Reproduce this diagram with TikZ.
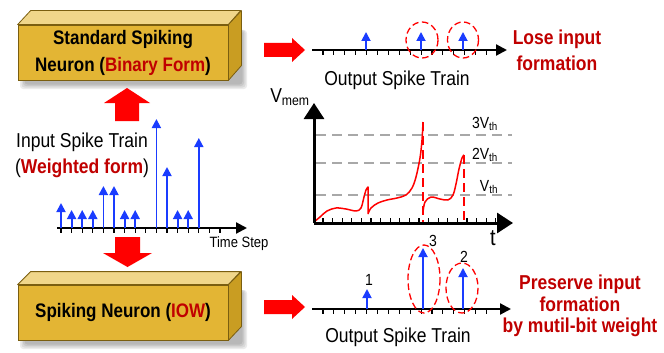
\documentclass[tikz,border=0pt]{standalone}
\usepackage{fontspec}
\usepackage{graphicx}
\setmainfont{Liberation Sans}
\usetikzlibrary{arrows.meta}
\definecolor{boxfront}{HTML}{E3B534}
\definecolor{boxtop}{HTML}{F0D68A}
\definecolor{boxside}{HTML}{C99D22}
\definecolor{boxedge}{HTML}{7A5E10}
\definecolor{darkred}{HTML}{C00000}
\definecolor{spikeblue}{HTML}{1A3CFF}
\definecolor{bigred}{HTML}{FF0000}
\definecolor{thgray}{HTML}{A8A8A8}
\newcommand{\vtall}[1]{\scalebox{1}[1.15]{#1}}
\tikzset{
  box3d/.style={draw=boxedge, fill=boxfront, line width=0.8pt, minimum width=210pt,
    minimum height=55pt, inner sep=0pt, align=center,
    font=\fontsize{17}{27}\selectfont\bfseries},
  boxtopface/.style={draw=boxedge, fill=boxtop, line width=0.8pt, line join=round},
  boxsideface/.style={draw=boxedge, fill=boxside, line width=0.8pt, line join=round},
  axisline/.style={draw=black, line width=2.2pt, -{Triangle[width=11pt,length=11pt]}},
  graphaxis/.style={draw=black, line width=3pt, -{Triangle[width=20pt,length=16pt]}},
  tickmark/.style={draw=black, line width=1.1pt},
  spike/.style={draw=spikeblue, line width=1.8pt, -{Triangle[width=9pt,length=9pt]}},
  ring/.style={draw=red, line width=1.3pt, dash pattern=on 6.5pt off 3.5pt},
  thline/.style={draw=thgray, line width=1.6pt, dash pattern=on 10pt off 6pt},
  vdash/.style={draw=red, line width=1.6pt, dash pattern=on 9pt off 5pt},
  lbl/.style={font=\fontsize{17.5}{20}\selectfont, inner sep=0pt},
  redlbl/.style={font=\fontsize{17.5}{26}\selectfont\bfseries, text=darkred, align=center, inner sep=0pt},
  small/.style={font=\fontsize{13}{15}\selectfont, inner sep=0pt},
  num/.style={font=\fontsize{14}{16}\selectfont, inner sep=0pt},
}
\begin{document}
\begin{tikzpicture}[x=1pt,y=-1pt]
\useasboundingbox (0,0) rectangle (664,353);
% ---------- shadows of the boxes
\foreach \yy in {0,260}{
  \foreach \s in {0,1.5,3,4.5}{
    \fill[black,opacity=0.08,rounded corners=3pt] (20+\s,30+\yy) rectangle (247-\s,89+\yy-\s);
  }
}
% ---------- top box
\node[box3d] (top) at (123,52.5) {\vtall{Standard Spiking}\\\vtall{Neuron ({\color{darkred}Binary Form})}};
\filldraw[boxtopface] (top.north west) -- ++(13,-14) -- ++(210,0) -- (top.north east) -- cycle;
\filldraw[boxsideface] (top.north east) -- ++(13,-14) -- ++(0,55) -- (top.south east) -- cycle;
% ---------- bottom box
\node[box3d] (bot) at (123,312.5) {\vtall{Spiking Neuron ({\color{darkred}IOW})}};
\filldraw[boxtopface] (bot.north west) -- ++(13,-13) -- ++(210,0) -- (bot.north east) -- cycle;
\filldraw[boxsideface] (bot.north east) -- ++(13,-13) -- ++(0,55) -- (bot.south east) -- cycle;
% ---------- big red arrows
\fill[bigred] (115,121) -- (115,103) -- (104,103) -- (127,88) -- (150,103) -- (139,103) -- (139,121) -- cycle;
\fill[bigred] (115,237) -- (115,253) -- (103,253) -- (127.5,267) -- (152,253) -- (140,253) -- (140,237) -- cycle;
\fill[bigred] (264,43) -- (292,43) -- (292,38) -- (305,50) -- (292,62) -- (292,57) -- (264,57) -- cycle;
\fill[bigred] (264,300) -- (292,300) -- (292,295) -- (305,307) -- (292,319) -- (292,314) -- (264,314) -- cycle;
% ---------- input spike train
\node[lbl] (inlab1) at (82,142) {\vtall{Input Spike Train}};
\node[lbl] (inlab2) at (82,168) {\vtall{({\bfseries\color{darkred}Weighted form})}};
\coordinate (in0) at (57,228);
\coordinate (in1) at (247,228);
\foreach \i in {0,...,15}{ \draw[tickmark] (61+10.6*\i,228) -- (61+10.6*\i,233); }
\draw[axisline] (in0) -- (in1);
\foreach \i/\h in {0/203,1/210,2/210,3/210,4/186,5/186,6/210,7/210,9/119,10/167,11/210,12/210,13/138}{
  \draw[spike] (61+10.6*\i,228) -- (61+10.6*\i,\h);
}
\node[small] (ts) at (239,244) {\vtall{Time Step}};
% ---------- top output spike train
\coordinate (o0) at (312,50);
\coordinate (o1) at (507,50);
\foreach \i in {0,...,15}{ \draw[tickmark] (323+10.9*\i,50) -- (323+10.9*\i,55); }
\draw[axisline] (o0) -- (o1);
\foreach \x in {366,421,463}{ \draw[spike] (\x,50) -- (\x,32); }
\draw[ring] (422,40) ellipse [x radius=16, y radius=18];
\draw[ring] (463,40) ellipse [x radius=15.5, y radius=18];
\node[lbl] (otl) at (397,80) {\vtall{Output Spike Train}};
\node[redlbl] (lose) at (557,50) {\vtall{Lose input}\\\vtall{formation}};
% ---------- membrane potential graph
\coordinate (g0) at (314,223);
\coordinate (gy) at (314,103);
\coordinate (gx) at (513,223);
\foreach \y in {135,163,195}{ \draw[thline] (316,\y) -- (512,\y); }
\foreach \i in {0,...,18}{ \draw[tickmark] (323+9.6*\i,223) -- (323+9.6*\i,218); }
\draw[red, line width=1.5pt, line join=round]
  plot[smooth, tension=0.55] coordinates {(314,222) (320,217) (327,211) (336,208) (346,209) (356,211) (361,208) (364,197) (366,190) (368,187)}
  -- (368,214)
  plot[smooth, tension=0.55] coordinates {(368,214) (371,208) (378,203) (387,200) (397,198) (406,195) (412,188) (416,177) (420,158) (422,140) (423,122)};
\draw[red, line width=1.5pt, line join=round]
  plot[smooth, tension=0.55] coordinates {(423,212) (425,202) (431,197) (440,199) (448,200) (453,195) (456,184) (459,169) (462,158) (464,155)};
\draw[vdash] (423,122) -- (423,222);
\draw[vdash] (464,155) -- (464,222);
\draw[graphaxis] (g0) -- (gy);
\draw[graphaxis] (g0) -- (gx);
\node[lbl] (vmem) at (290,97) {\vtall{V\textsubscript{mem}}};
\node[num] (v3) at (485,124) {\vtall{3V\textsubscript{th}}};
\node[num] (v2) at (485,155) {\vtall{2V\textsubscript{th}}};
\node[num] (v1) at (489,187) {\vtall{V\textsubscript{th}}};
\node[font=\fontsize{20}{22}\selectfont, inner sep=0pt] (tt) at (493,238) {\vtall{t}};
% ---------- bottom output spike train
\coordinate (b0) at (312,309);
\coordinate (b1) at (511,309);
\foreach \i in {0,...,15}{ \draw[tickmark] (323+10.9*\i,309) -- (323+10.9*\i,314); }
\draw[axisline] (b0) -- (b1);
\draw[spike] (367,309) -- (367,289);
\draw[spike] (423,309) -- (423,248);
\draw[spike] (463,309) -- (463,268);
\draw[ring] (424,279) ellipse [x radius=16, y radius=34];
\draw[ring] (462,288) ellipse [x radius=16, y radius=25];
\node[num] (n1) at (369,280) {\vtall{1}};
\node[num] (n3) at (433,241) {\vtall{3}};
\node[num] (n2) at (464,257) {\vtall{2}};
\node[lbl] (obl) at (398,337) {\vtall{Output Spike Train}};
\node[redlbl, font=\fontsize{17.5}{21.5}\selectfont\bfseries] (pres) at (580,306) {\vtall{Preserve input}\\\vtall{formation}\\\vtall{by mutil-bit weight}};
\end{tikzpicture}
\end{document}
